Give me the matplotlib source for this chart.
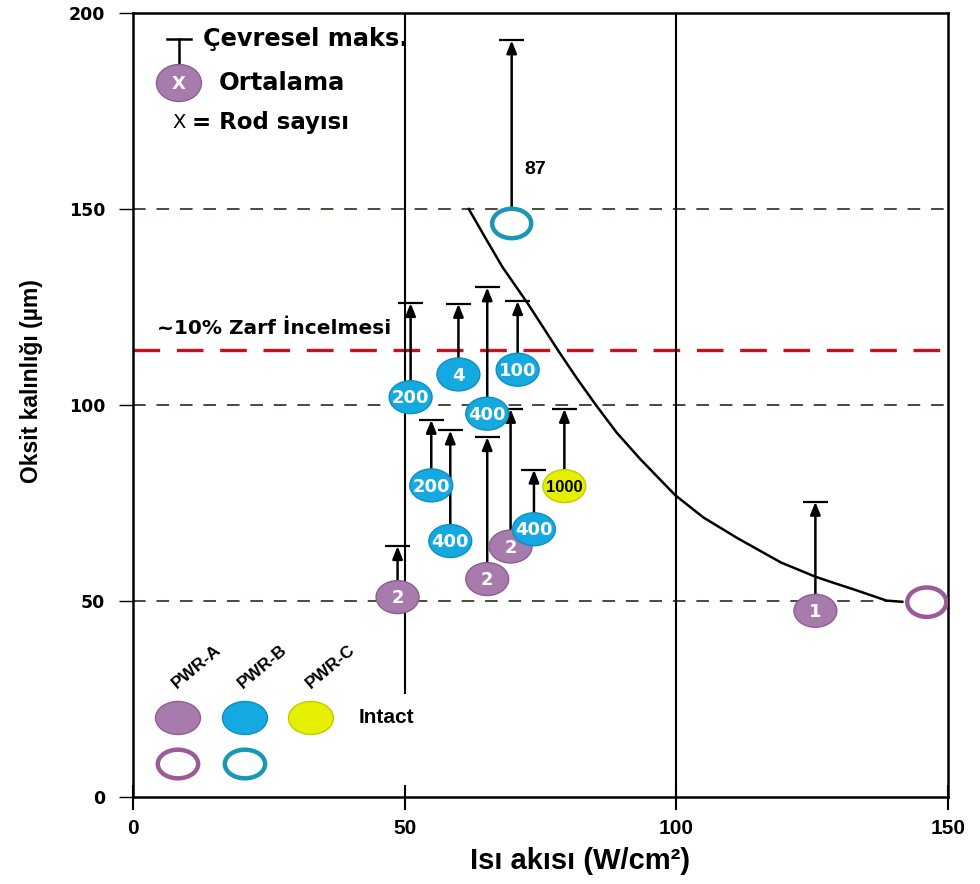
import matplotlib
matplotlib.use('Agg')
import matplotlib.pyplot as plt
from matplotlib import font_manager
from matplotlib.patches import Ellipse


# rods per data point: label, heat flux, mean oxide, circumferential max
pwr_a_labels = ['2', '2', '2', '1']
pwr_a_flux = [48.7, 65.2, 69.5, 125.6]
pwr_a_mean = [51.0, 55.6, 63.9, 47.5]
pwr_a_max = [64.0, 91.8, 99.0, 75.3]

pwr_b_labels = ['200', '4', '400', '100', '200', '400', '400']
pwr_b_flux = [51.1, 59.9, 65.2, 70.8, 54.9, 58.4, 73.8]
pwr_b_mean = [102.0, 107.8, 97.8, 109.0, 79.5, 65.3, 68.3]
pwr_b_max = [126.0, 125.8, 130.0, 126.5, 96.2, 93.5, 83.5]

pwr_c_labels = ['1000']
pwr_c_flux = [79.4]
pwr_c_mean = [79.3]
pwr_c_max = [99.0]

# open symbols
open_b_flux = [69.7]
open_b_mean = [146.3]
open_b_max = [193.0]
open_b_note = ['87']

open_a_flux = [146.1]
open_a_mean = [49.7]

# limit curve
curve_flux = [61.8, 65.0, 68.0, 72.7, 78.3, 81.7, 85.2, 89.0, 93.3, 99.8,
              105.0, 111.3, 119.3, 125.6, 128.6, 133.0, 138.7, 141.6]
curve_oxide = [150.0, 142.3, 135.2, 125.8, 113.8, 106.8, 100.0, 93.0, 86.3,
               77.0, 71.3, 66.0, 59.8, 56.2, 54.8, 52.8, 50.1, 49.8]

thinning_level = 114.0
grid_levels = [50, 100, 150]

x_ticks = [0, 50, 100, 150]
y_ticks = [0, 50, 100, 150, 200]

PURPLE = '#a77bab'
PURPLE_EDGE = '#8e5e93'
BLUE = '#14a9e1'
BLUE_EDGE = '#0e8fc0'
YELLOW = '#e5f000'
YELLOW_EDGE = '#bfcb00'
RING_PURPLE = '#9a5b98'
RING_TEAL = '#1a97b5'

names = {f.name for f in font_manager.fontManager.ttflist}
NARROW = 'Liberation Sans Narrow' if 'Liberation Sans Narrow' in names else 'Liberation Sans'

# marker size in data units (x, y)
MW, MH = 7.9, 8.4


def arrow_to_max(ax, x, y0, y1):
    ax.annotate('', xy=(x, y1), xytext=(x, y0),
                arrowprops=dict(arrowstyle='-|>,head_length=0.5,head_width=0.2',
                                mutation_scale=15, lw=1.8, color='black',
                                shrinkA=0, shrinkB=0),
                zorder=3)
    ax.plot([x - 2.3, x + 2.3], [y1, y1], color='black', lw=1.6, zorder=3,
            solid_capstyle='butt')


def filled_marker(ax, x, y, label, face, edge, txtcolor='white', narrow=False):
    ax.add_patch(Ellipse((x, y), MW, MH, facecolor=face, edgecolor=edge,
                         lw=1.0, zorder=4))
    if narrow:
        ax.text(x, y - 0.3, label, ha='center', va='center', color=txtcolor,
                fontsize=12, fontweight='bold', family=NARROW, zorder=5)
    else:
        ax.text(x, y - 0.3, label, ha='center', va='center', color=txtcolor,
                fontsize=13, fontweight='bold', family='DejaVu Sans', zorder=5)


def open_marker(ax, x, y, edge):
    ax.add_patch(Ellipse((x, y), MW - 0.7, MH - 0.9, facecolor='white',
                         edgecolor=edge, lw=3.2, zorder=4))


fig = plt.figure(figsize=(9.8, 8.84), dpi=100)
ax = fig.add_axes([0.1357, 0.0984, 0.8316, 0.8869])
ax.set_xlim(0, 150)
ax.set_ylim(0, 200)

# reference lines
for lvl in grid_levels:
    ax.axhline(lvl, color='#3b3b2b', lw=1.3, dashes=(7, 6), zorder=1)
ax.axhline(thinning_level, color='#c1121f', lw=2.4, dashes=(8, 5), zorder=1)
ax.plot([50, 50], [26.5, 200], color='black', lw=1.5, zorder=1)
ax.axvline(100, color='black', lw=1.5, zorder=1)

ax.plot(curve_flux, curve_oxide, color='black', lw=1.8, zorder=2,
        solid_joinstyle='round')

for x, y, m in zip(pwr_a_flux, pwr_a_mean, pwr_a_max):
    arrow_to_max(ax, x, y, m)
for x, y, m in zip(pwr_b_flux, pwr_b_mean, pwr_b_max):
    arrow_to_max(ax, x, y, m)
for x, y, m in zip(pwr_c_flux, pwr_c_mean, pwr_c_max):
    arrow_to_max(ax, x, y, m)
for x, y, m, note in zip(open_b_flux, open_b_mean, open_b_max, open_b_note):
    arrow_to_max(ax, x, y, m)
    ax.text(x + 2.4, 160, note, ha='left', va='center', fontsize=14,
            fontweight='bold', family='Liberation Sans')

for x, y, lab in zip(pwr_a_flux, pwr_a_mean, pwr_a_labels):
    filled_marker(ax, x, y, lab, PURPLE, PURPLE_EDGE)
for x, y, lab in zip(pwr_b_flux, pwr_b_mean, pwr_b_labels):
    filled_marker(ax, x, y, lab, BLUE, BLUE_EDGE)
for x, y, lab in zip(pwr_c_flux, pwr_c_mean, pwr_c_labels):
    filled_marker(ax, x, y, lab, YELLOW, YELLOW_EDGE, txtcolor='black', narrow=True)
for x, y in zip(open_b_flux, open_b_mean):
    open_marker(ax, x, y, RING_TEAL)
for x, y in zip(open_a_flux, open_a_mean):
    open_marker(ax, x, y, RING_PURPLE)

ax.text(0.0294, 0.598, '~10% Zarf İncelmesi', transform=ax.transAxes,
        ha='left', va='center', fontsize=14.5, fontweight='bold',
        family='DejaVu Sans')

# key, upper left
t = ax.transAxes
ax.plot([0.0417, 0.0717], [0.967, 0.967], color='black', lw=1.8, transform=t)
ax.plot([0.0567, 0.0567], [0.967, 0.932], color='black', lw=1.8, transform=t)
ax.add_patch(Ellipse((0.0564, 0.9107), 0.0552, 0.0472, transform=t,
                     facecolor=PURPLE, edgecolor=PURPLE_EDGE, lw=1.0, zorder=4))
ax.text(0.0564, 0.9100, 'X', transform=t, ha='center', va='center',
        color='white', fontsize=13, fontweight='bold', family='DejaVu Sans',
        zorder=5)
ax.text(0.0859, 0.9668, 'Çevresel maks.', transform=t, ha='left',
        va='center', fontsize=17.3, fontweight='bold', family='DejaVu Sans')
ax.text(0.1055, 0.9107, 'Ortalama', transform=t, ha='left', va='center',
        fontsize=17.5, fontweight='bold', family='DejaVu Sans')
ax.text(0.049, 0.8597, 'X', transform=t, ha='left', va='center',
        fontsize=14, family='DejaVu Sans')
ax.text(0.072, 0.8597, '= Rod sayısı', transform=t, ha='left', va='center',
        fontsize=16.5, fontweight='bold', family='DejaVu Sans')

# key, lower left
for xc, name in zip([0.0785, 0.1595, 0.242], ['PWR-A', 'PWR-B', 'PWR-C']):
    ax.text(xc, 0.166, name, transform=t, ha='center', va='center',
            rotation=40, rotation_mode='anchor', fontsize=12.5,
            fontweight='bold', family=NARROW)
for xc, face, edge in zip([0.0552, 0.1374, 0.2184],
                          [PURPLE, BLUE, YELLOW],
                          [PURPLE_EDGE, BLUE_EDGE, YELLOW_EDGE]):
    ax.add_patch(Ellipse((xc, 0.1008), 0.0552, 0.0421, transform=t,
                         facecolor=face, edgecolor=edge, lw=1.0, zorder=4))
for xc, edge in zip([0.0552, 0.1374], [RING_PURPLE, RING_TEAL]):
    ax.add_patch(Ellipse((xc, 0.0421), 0.0495, 0.0365, transform=t,
                         facecolor='white', edgecolor=edge, lw=3.2, zorder=4))
ax.text(0.2773, 0.1008, 'Intact', transform=t, ha='left', va='center',
        fontsize=15, fontweight='bold', family='Liberation Sans')

# axes styling
for side in ['left', 'right', 'top', 'bottom']:
    ax.spines[side].set_linewidth(1.8)
ax.set_xticks(x_ticks)
ax.set_yticks(y_ticks)
ax.tick_params(axis='x', direction='inout', length=18, width=1.5, pad=7)
ax.tick_params(axis='y', direction='out', length=10, width=1.0, pad=10)
for lab in ax.get_xticklabels():
    lab.set_fontfamily(NARROW)
    lab.set_fontweight('bold')
    lab.set_fontsize(15)
for lab in ax.get_yticklabels():
    lab.set_fontfamily('DejaVu Sans')
    lab.set_fontweight('bold')
    lab.set_fontsize(12.5)

ax.set_xlabel('Isı akısı (W/cm²)', fontsize=21, fontweight='bold',
              family=NARROW)
ax.xaxis.set_label_coords(0.548, -0.064)
ax.set_ylabel('Oksit kalınlığı (µm)', fontsize=16.5, fontweight='bold',
              family=NARROW, va='center')
ax.yaxis.set_label_coords(-0.124, 0.53)

fig.savefig('out.png', dpi=100)
